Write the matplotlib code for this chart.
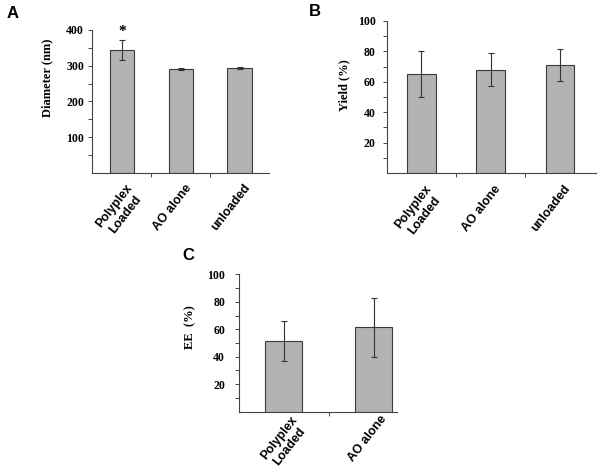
import matplotlib
matplotlib.use("Agg")
import matplotlib.pyplot as plt
from matplotlib.transforms import ScaledTranslation

groups = ["Polyplex\nLoaded", "AO alone", "unloaded"]
diameter = [344, 292, 293]
diameter_err = [28, 3, 3]
yield_pct = [65, 68, 71]
yield_err = [15, 11, 10.5]
ee = [51.5, 61.5]
ee_err = [14.5, 21.5]

BAR = "#b3b3b3"
EDGE = "#3a3a3a"
SERIF = "Liberation Serif"
SANS = "Liberation Sans"

W, H = 600, 470
fig = plt.figure(figsize=(W / 100, H / 100), dpi=100)


def axes_px(left, right, top, bottom):
    return fig.add_axes([left / W, 1 - bottom / H, (right - left) / W, (bottom - top) / H])


def panel(ax, labels, vals, errs, ymax, major, minor, xmax, pad, dx, dy):
    x = range(len(vals))
    ax.bar(x, vals, width=0.41, color=BAR, edgecolor=EDGE, linewidth=0.8, zorder=2)
    ax.errorbar(x, vals, yerr=errs, fmt="none", ecolor="#333333",
                elinewidth=0.8, capsize=2, capthick=0.8, zorder=3)
    ax.set_xlim(-0.5, xmax)
    ax.set_ylim(0, ymax)
    for s in ("top", "right"):
        ax.spines[s].set_visible(False)
    for s in ("left", "bottom"):
        ax.spines[s].set_color("#444444")
        ax.spines[s].set_linewidth(0.8)
    ax.set_yticks(major)
    ax.set_yticks(minor, minor=True)
    ax.set_yticklabels([str(v) for v in major], fontfamily=SERIF,
                       fontweight="bold", fontsize=8.5)
    ax.tick_params(axis="y", which="both", length=3, width=0.7,
                   color="#444444", pad=pad)
    ax.set_xticks([])
    ax.set_xticks([i + 0.5 for i in range(len(vals) - 1)], minor=True)
    ax.tick_params(axis="x", which="minor", length=3, width=0.7, color="#444444")
    # category labels, rotated, top-right end placed below each bar
    off = ScaledTranslation(dx / 100, -dy / 100, fig.dpi_scale_trans)
    for i in x:
        ax.text(i, 0, labels[i], rotation=52, rotation_mode="anchor",
                ha="right", va="top", multialignment="center",
                fontfamily=SANS, fontweight="bold", fontsize=9,
                transform=ax.get_xaxis_transform() + off, clip_on=False)


# Panel A
axA = axes_px(92.3, 269, 30, 173)
panel(axA, groups, diameter, diameter_err, 400, [100, 200, 300, 400],
      [50, 150, 250, 350], 2.5, 3, 4, 9)
axA.text(0, 378, "*", ha="center", va="bottom", fontfamily=SERIF,
         fontweight="bold", fontsize=11, clip_on=False)

# Panel B
axB = axes_px(386.7, 596, 21, 173)
panel(axB, groups, yield_pct, yield_err, 100, [20, 40, 60, 80, 100],
      [10, 30, 50, 70, 90], 2.52, 5, 3, 10)

# Panel C
axC = axes_px(239, 397, 274.3, 411.7)
panel(axC, groups, ee, ee_err, 100, [20, 40, 60, 80, 100],
      [10, 30, 50, 70, 90], 1.26, 7, 6, 2)

# y labels
for (px, py, txt) in [(47, 77.5, "Diameter (nm)"), (344, 85, "Yield (%)"),
                      (190, 327.5, "EE  (%)")]:
    fig.text(px / W, 1 - py / H, txt, rotation=90, ha="center", va="center",
             fontfamily=SERIF, fontweight="bold", fontsize=9)

# panel letters
for (px, py, txt) in [(12.5, 13, "A"), (314.5, 11.5, "B"), (188, 256, "C")]:
    fig.text(px / W, 1 - py / H, txt, ha="center", va="center",
             fontfamily=SANS, fontweight="bold", fontsize=12)

fig.savefig("out.png", dpi=100)
